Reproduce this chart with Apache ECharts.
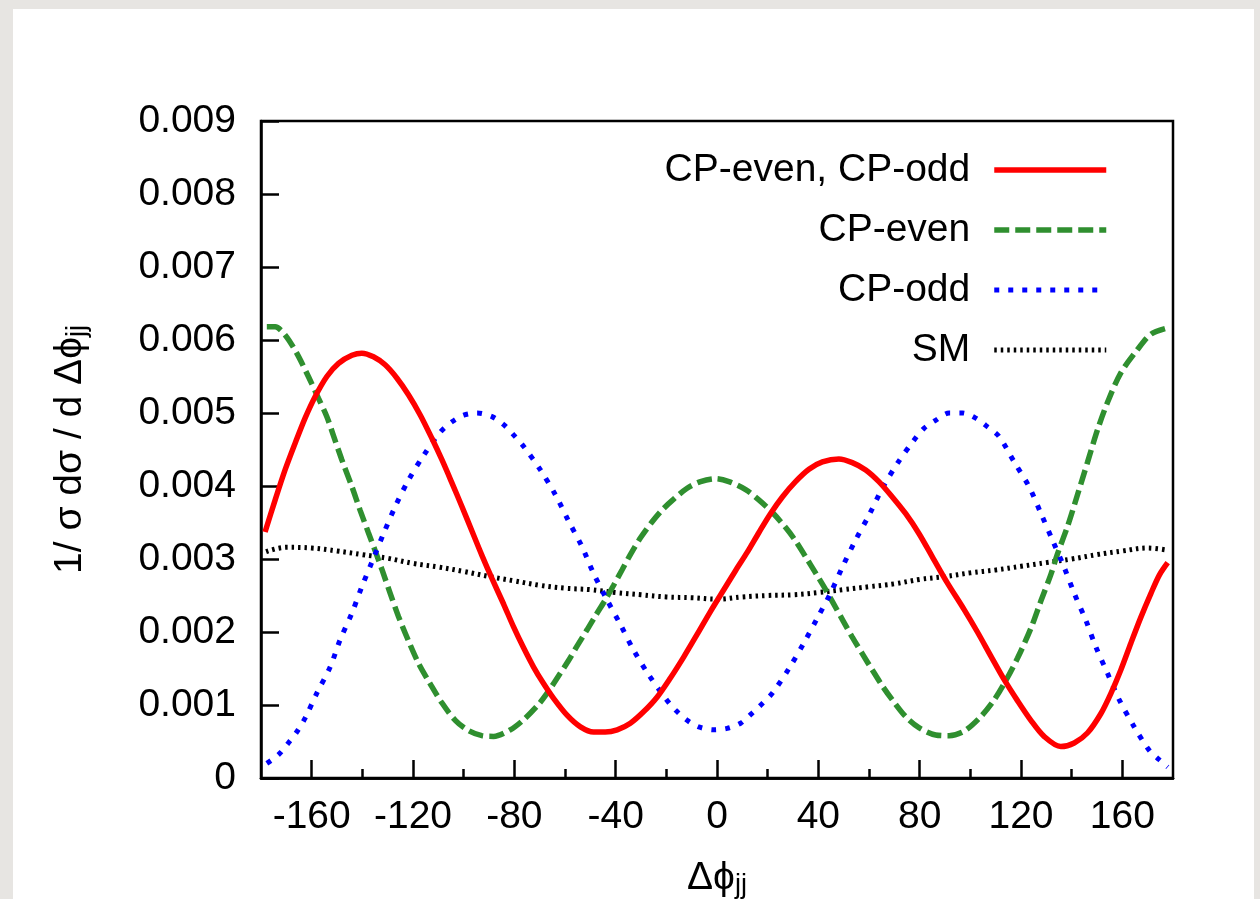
<!DOCTYPE html>
<html>
<head>
<meta charset="utf-8">
<script src="https://cdn.jsdelivr.net/npm/echarts@6/dist/echarts.min.js"></script>
<style>
html,body{margin:0;padding:0;background:#e7e5e2;}
#chart{width:1260px;height:899px;}
</style>
</head>
<body>
<div id="chart"></div>
<script>
// Values; y in units of 1e-3, x = Δφjj in degrees
const mixPhi = [-178.4,-174.4,-170.5,-166.6,-162.6,-158.7,-154.0,-149.4,-144.1,-140.2,-135.6,-131.0,-126.4,-121.8,-117.1,-112.5,-108.6,-104.6,-100.7,-96.7,-92.8,-88.8,-84.2,-80.3,-76.3,-72.4,-68.4,-64.5,-59.2,-53.9,-48.7,-44.1,-39.4,-34.2,-28.9,-23.6,-18.4,-13.1,-7.8,-2.6,3.4,7.3,11.9,16.5,21.1,25.8,31.0,36.3,41.6,48.1,53.4,58.7,63.9,69.2,74.5,79.7,85.0,90.8,97.5,102.8,108.1,113.3,118.6,123.9,129.1,135.7,141.0,146.3,151.5,155.5,159.4,163.4,167.3,171.3,174.6,177.9];
const mixVal = [3.37,3.81,4.22,4.58,4.93,5.22,5.50,5.68,5.79,5.82,5.77,5.66,5.48,5.25,4.97,4.65,4.36,4.04,3.72,3.38,3.05,2.73,2.38,2.07,1.78,1.52,1.29,1.09,0.86,0.70,0.63,0.63,0.66,0.75,0.91,1.11,1.37,1.66,1.97,2.28,2.62,2.84,3.09,3.36,3.62,3.85,4.06,4.23,4.33,4.37,4.32,4.22,4.06,3.85,3.62,3.35,3.03,2.68,2.31,2.00,1.67,1.35,1.06,0.79,0.57,0.43,0.48,0.62,0.88,1.16,1.48,1.85,2.20,2.53,2.78,2.95];

const evenPhi = [-177.7,-174.4,-170.5,-165.9,-161.3,-157.3,-154.0,-151.4,-148.1,-144.1,-140.9,-137.6,-134.9,-132.3,-129.0,-125.7,-121.8,-117.8,-113.2,-108.6,-103.3,-98.1,-92.8,-88.2,-81.6,-76.3,-70.4,-66.5,-62.5,-58.6,-55.2,-51.3,-48.0,-44.1,-40.8,-37.5,-34.2,-30.2,-25.6,-21.7,-17.1,-11.8,-6.5,-0.6,4.7,11.3,16.5,21.8,27.1,31.0,35.0,38.9,42.9,45.5,49.5,53.4,57.4,61.3,65.3,69.2,74.5,79.7,86.3,91.6,97.5,104.1,109.4,113.3,118.6,123.9,127.8,131.8,134.4,138.4,142.3,146.3,150.2,154.2,159.4,166.0,171.3,177.2];
const evenVal = [6.18,6.18,6.07,5.82,5.50,5.20,4.95,4.69,4.36,3.99,3.67,3.36,3.11,2.86,2.53,2.21,1.88,1.57,1.29,1.03,0.79,0.65,0.58,0.57,0.66,0.80,1.01,1.19,1.40,1.61,1.81,2.03,2.22,2.44,2.64,2.85,3.06,3.29,3.51,3.67,3.82,3.97,4.06,4.10,4.06,3.95,3.81,3.64,3.43,3.25,3.03,2.81,2.58,2.42,2.17,1.93,1.70,1.48,1.26,1.07,0.84,0.69,0.59,0.58,0.64,0.84,1.07,1.29,1.64,2.05,2.42,2.79,3.07,3.45,3.88,4.33,4.77,5.15,5.55,5.87,6.08,6.16];

const oddPhi = [-177.7,-173.1,-169.2,-165.9,-162.6,-158.0,-152.7,-148.8,-144.1,-140.2,-136.2,-131.6,-127.0,-121.8,-115.8,-109.2,-104.6,-100.0,-94.7,-88.8,-84.2,-80.3,-76.3,-69.7,-63.8,-58.6,-53.3,-48.7,-43.4,-38.1,-32.9,-26.9,-20.3,-16.4,-11.8,-7.2,-1.3,4.0,9.3,13.9,17.9,21.8,28.4,34.3,39.6,44.8,49.5,54.7,60.0,65.3,71.2,77.8,81.7,86.3,91.6,96.9,102.1,106.8,111.3,117.3,123.2,127.8,132.4,137.0,141.0,145.6,149.5,154.2,158.8,164.7,170.6,174.6,177.9];
const oddVal = [0.20,0.32,0.48,0.63,0.82,1.16,1.52,1.89,2.26,2.62,2.96,3.35,3.72,4.08,4.42,4.74,4.88,4.97,5.00,4.95,4.84,4.70,4.54,4.22,3.88,3.52,3.17,2.80,2.44,2.10,1.75,1.41,1.09,0.93,0.79,0.70,0.66,0.68,0.75,0.89,1.02,1.16,1.50,1.85,2.19,2.53,2.89,3.26,3.60,3.97,4.31,4.63,4.79,4.90,5.00,5.00,4.93,4.81,4.68,4.33,3.99,3.63,3.26,2.89,2.53,2.16,1.80,1.43,1.07,0.70,0.38,0.25,0.15];

const smPhi = [-178,-170,-160,-150,-140,-130,-120,-110,-100,-90,-80,-70,-60,-50,-40,-30,-20,-10,0,10,20,30,40,50,60,70,80,90,100,110,120,130,140,150,160,170,178];
const smVal = [3.10,3.16,3.15,3.11,3.06,3.01,2.94,2.89,2.83,2.76,2.70,2.64,2.60,2.58,2.54,2.51,2.48,2.47,2.45,2.48,2.50,2.51,2.54,2.58,2.62,2.66,2.72,2.76,2.81,2.85,2.90,2.95,3.00,3.06,3.11,3.15,3.12];

const seriesNames = ['CP-even, CP-odd','CP-even','CP-odd','SM'];
const xMajorTicks = [-160,-120,-80,-40,0,40,80,120,160];
const xMinorTicks = [-140,-100,-60,-20,20,60,100,140];
const yTicks = [0,0.001,0.002,0.003,0.004,0.005,0.006,0.007,0.008,0.009];

const FONT = '"Liberation Sans", Arial, Helvetica, sans-serif';
const toPts = (xs, vs) => xs.map((x, i) => [x, vs[i] * 1e-3]);

const chart = echarts.init(document.getElementById('chart'), null, {renderer: 'canvas'});
const baseAxis = {
  type: 'value', min: -180, max: 180,
  axisLine: {show: true, onZero: false, lineStyle: {color: '#000', width: 2.5}},
  splitLine: {show: false}
};
const subRich = {s: {fontFamily: FONT, fontSize: 27, color: '#000', padding: [14, 0, 0, 0]}};
chart.setOption({
  animation: false,
  graphic: [{
    type: 'rect', z: -10, silent: true,
    shape: {x: 13, y: 9, width: 1241, height: 900},
    style: {fill: '#ffffff'}
  }],
  grid: {left: 261, right: 87, top: 121, bottom: 121, containLabel: false, outerBoundsMode: 'none',
         show: true, borderColor: '#000', borderWidth: 2.5, backgroundColor: 'transparent'},
  legend: {
    orient: 'vertical', right: 146, top: 145, align: 'right',
    itemWidth: 112, itemHeight: 14, itemGap: 20,
    data: seriesNames,
    itemStyle: {opacity: 0},
    lineStyle: {width: 'inherit', type: 'inherit'},
    textStyle: {fontFamily: FONT, fontSize: 39, color: '#000', lineHeight: 40, padding: [0, 19, 0, 0]}
  },
  xAxis: [
    Object.assign({}, baseAxis, {
      axisTick: {show: true, inside: true, length: 18, lineStyle: {color: '#000', width: 2.5}, customValues: xMajorTicks},
      axisLabel: {show: true, customValues: xMajorTicks, margin: 20, fontFamily: FONT, fontSize: 39, color: '#000'},
      name: 'Δϕ{s|jj}', nameLocation: 'middle', nameGap: 80,
      nameTextStyle: {fontFamily: FONT, fontSize: 39, color: '#000', rich: subRich}
    }),
    Object.assign({}, baseAxis, {
      position: 'bottom', gridIndex: 0,
      axisTick: {show: true, inside: true, length: 9, lineStyle: {color: '#000', width: 2.5}, customValues: xMinorTicks},
      axisLabel: {show: false}
    })
  ],
  yAxis: {
    type: 'value', min: 0, max: 0.009, interval: 0.001,
    axisLine: {show: true, onZero: false, lineStyle: {color: '#000', width: 2.5}},
    splitLine: {show: false},
    axisTick: {show: true, inside: true, length: 18, lineStyle: {color: '#000', width: 2.5}, customValues: yTicks},
    axisLabel: {margin: 25, fontFamily: FONT, fontSize: 39, color: '#000', formatter: (v) => v === 0 ? '0' : v.toFixed(3)},
    name: '1/ σ dσ / d Δϕ{s|jj}', nameLocation: 'middle', nameRotate: 90, nameGap: 170,
    nameTextStyle: {fontFamily: FONT, fontSize: 39, color: '#000', rich: subRich}
  },
  series: [
    {name: seriesNames[0], type: 'line', smooth: 0.3, symbol: 'none', data: toPts(mixPhi, mixVal),
     lineStyle: {color: '#ff0000', width: 5.5, type: 'solid'}, itemStyle: {color: '#ff0000'}, z: 4},
    {name: seriesNames[1], type: 'line', smooth: 0.3, symbol: 'none', data: toPts(evenPhi, evenVal),
     lineStyle: {color: '#2f8f2f', width: 5.5, type: [15, 6]}, itemStyle: {color: '#2f8f2f'}, z: 3},
    {name: seriesNames[2], type: 'line', smooth: 0.3, symbol: 'none', data: toPts(oddPhi, oddVal),
     lineStyle: {color: '#0000ff', width: 5, type: [5, 9]}, itemStyle: {color: '#0000ff'}, z: 3},
    {name: seriesNames[3], type: 'line', smooth: 0.4, symbol: 'none', data: toPts(smPhi, smVal),
     lineStyle: {color: '#000000', width: 5, type: [2.5, 4]}, itemStyle: {color: '#000000'}, z: 2}
  ]
});
</script>
</body>
</html>
